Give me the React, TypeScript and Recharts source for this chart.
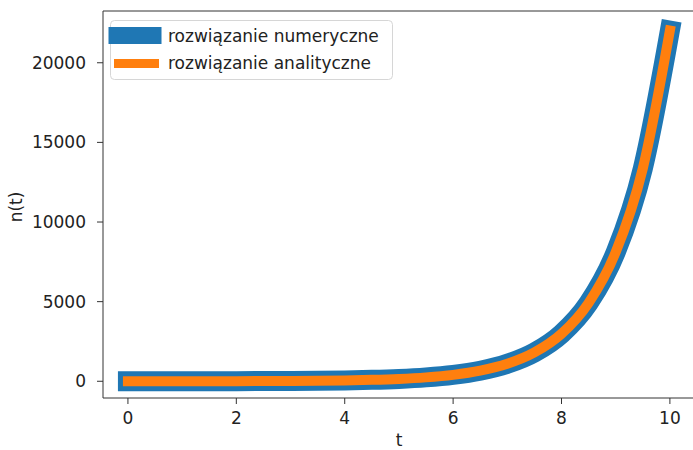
import { Label, Legend, Line, LineChart, ReferenceLine, XAxis, YAxis } from "recharts";

// t values and n(t)
const tValues = [0, 0.5, 1, 1.5, 2, 2.5, 3, 3.5, 4, 4.5, 5, 5.5, 6, 6.5, 7, 7.5, 8, 8.5, 9, 9.5, 10];
const numeric = [1, 1.6, 2.7, 4.5, 7.4, 12, 20, 33, 55, 90, 148, 245, 403, 665, 1097, 1808, 2981, 4915, 8103, 13360, 22026];
const analytic = [1, 1.6, 2.7, 4.5, 7.4, 12, 20, 33, 55, 90, 148, 245, 403, 665, 1097, 1808, 2981, 4915, 8103, 13360, 22026];

const xTicks = [0, 2, 4, 6, 8, 10];
const yTicks = [0, 5000, 10000, 15000, 20000];

const numericLabel = "rozwiązanie numeryczne";
const analyticLabel = "rozwiązanie analityczne";

const BLUE = "#1f77b4";
const ORANGE = "#ff7f0e";
const FONT = "DejaVu Sans";

const data = tValues.map((t, i) => ({ t, numeric: numeric[i], analytic: analytic[i] }));

function renderLegend() {
  return (
    <svg width={286} height={62} style={{ display: "block", overflow: "visible" }}>
      <rect x={2.5} y={0.5} width={282} height={59} rx={4} fill="rgba(255,255,255,0.8)" stroke="#d6d6d6" />
      <line x1={9} x2={45} y1={15.5} y2={15.5} stroke={BLUE} strokeWidth={17} strokeLinecap="square" />
      <line x1={10.5} x2={46.5} y1={43.5} y2={43.5} stroke={ORANGE} strokeWidth={9} strokeLinecap="square" />
      <text x={60} y={16} dy="0.35em" fontFamily={FONT} fontSize={17} fill="#222">
        {numericLabel}
      </text>
      <text x={60} y={43} dy="0.35em" fontFamily={FONT} fontSize={17} fill="#222">
        {analyticLabel}
      </text>
    </svg>
  );
}

export default function App() {
  return (
    <div style={{ width: 693, height: 450, background: "#fff" }}>
      <style>{"body{margin:0}"}</style>
      <LineChart width={693} height={450} data={data} margin={{ top: 11, right: -4, bottom: 18, left: 0 }}>
        <XAxis
          dataKey="t"
          type="number"
          domain={[-0.46, 10.5]}
          ticks={xTicks}
          allowDataOverflow
          height={34}
          tickSize={6}
          tickMargin={8}
          stroke="#333"
          tick={{ fontFamily: FONT, fontSize: 17, fill: "#222" }}
        >
          <Label
            content={() => (
              <text x={399} y={440} dy="0.35em" textAnchor="middle" fontFamily={FONT} fontSize={17} fill="#222">
                t
              </text>
            )}
          />
        </XAxis>
        <YAxis
          type="number"
          domain={[-1050, 23250]}
          ticks={yTicks}
          allowDataOverflow
          width={103}
          tickSize={6}
          tickMargin={11}
          stroke="#333"
          tick={{ fontFamily: FONT, fontSize: 17, fill: "#222" }}
        >
          <Label
            content={() => (
              <text
                x={16}
                y={207}
                dy="0.35em"
                textAnchor="middle"
                fontFamily={FONT}
                fontSize={17}
                fill="#222"
                transform="rotate(-90 16 207)"
              >
                n(t)
              </text>
            )}
          />
        </YAxis>
        <ReferenceLine y={23250} stroke="#333" />
        <Legend
          layout="horizontal"
          verticalAlign="middle"
          align="center"
          content={renderLegend}
          wrapperStyle={{ position: "absolute", left: 108, top: 20, width: 286, height: 62 }}
        />
        <Line
          type="monotone"
          dataKey="numeric"
          name={numericLabel}
          stroke={BLUE}
          strokeWidth={20}
          strokeLinecap="square"
          strokeLinejoin="round"
          dot={false}
          activeDot={false}
          isAnimationActive={false}
        />
        <Line
          type="monotone"
          dataKey="analytic"
          name={analyticLabel}
          stroke={ORANGE}
          strokeWidth={10}
          strokeLinecap="square"
          strokeLinejoin="round"
          dot={false}
          activeDot={false}
          isAnimationActive={false}
        />
      </LineChart>
    </div>
  );
}
